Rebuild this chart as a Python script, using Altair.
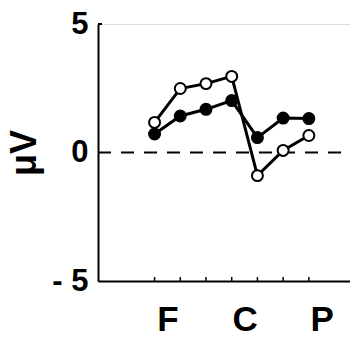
import altair as alt
import pandas as pd

# Electrode sites along the midline (F, C, P) and the 7 sampled positions
positions = [1, 2, 3, 4, 5, 6, 7]
filled_vals = [0.72, 1.42, 1.68, 2.02, 0.58, 1.34, 1.32]
open_vals = [1.17, 2.49, 2.68, 2.96, -0.90, 0.08, 0.66]

site_labels = ["F", "C", "P"]
site_positions = [1.5, 4.5, 7.5]

y_ticks = [-5, 0, 5]

W, H = 252, 257

df = pd.DataFrame({
    "pos": positions * 2,
    "uv": filled_vals + open_vals,
    "cond": ["filled"] * len(positions) + ["open"] * len(positions),
})

label_expr = " : ".join(
    f"datum.value == {p} ? '{l}'" for p, l in zip(site_positions, site_labels)
) + " : ''"

x_scale = alt.Scale(domain=[-1.2, 8.6], nice=False, zero=False)
y_scale = alt.Scale(domain=[-5, 5], nice=False)

x_axis = alt.Axis(
    values=site_positions, labelExpr=label_expr, ticks=False, grid=False,
    domainColor="black", domainWidth=2, labelFontSize=35, labelFontWeight="bold",
    labelColor="black", labelPadding=21, labelFont="Liberation Sans", title=None,
)
y_axis = alt.Axis(
    values=y_ticks, labelExpr="datum.value < 0 ? '- ' + abs(datum.value) : datum.label",
    ticks=False, grid=False, domainColor="black", domainWidth=2,
    labelFontSize=31, labelFontWeight="bold", labelColor="black", labelPadding=10,
    labelFont="Liberation Sans", title="μV", titleFontSize=36, titleFontWeight="bold",
    titleColor="black", titleFont="Liberation Sans", titlePadding=8,
)

base = alt.Chart(df).encode(
    x=alt.X("pos:Q", scale=x_scale, axis=x_axis),
    y=alt.Y("uv:Q", scale=y_scale, axis=y_axis),
)

# zero reference line
zero = alt.Chart(pd.DataFrame({"z": [0]})).mark_rule(
    strokeDash=[13, 10], strokeWidth=2, color="black"
).encode(y=alt.Y("z:Q", scale=y_scale), x=alt.value(0), x2=alt.value(W - 8))

# inward tick marks on the x axis
ticks = alt.Chart(pd.DataFrame({"t": positions})).mark_rule(
    strokeWidth=1.5, color="black"
).encode(x=alt.X("t:Q", scale=x_scale), y=alt.value(H - 4), y2=alt.value(H))

top_tick = alt.Chart(pd.DataFrame({"v": [5]})).mark_rule(
    strokeWidth=2, color="black"
).encode(y=alt.Y("v:Q", scale=y_scale), x=alt.value(0), x2=alt.value(4))

lines = base.mark_line(color="black", strokeWidth=3).encode(detail="cond:N")

points = base.mark_point(
    shape="circle", size=120, filled=True, stroke="black", strokeWidth=2, opacity=1
).encode(
    fill=alt.Fill("cond:N", scale=alt.Scale(domain=["filled", "open"], range=["black", "white"]), legend=None)
)

chart = alt.layer(zero, ticks, top_tick, lines, points).properties(
    width=W, height=H,
    autosize=alt.AutoSizeParams(type="none"),
    padding={"left": 98, "top": 24, "right": 0, "bottom": 57},
).configure_view(stroke=None).configure(background="white")

chart.save("out.html", embed_options={"renderer": "svg", "actions": False})
